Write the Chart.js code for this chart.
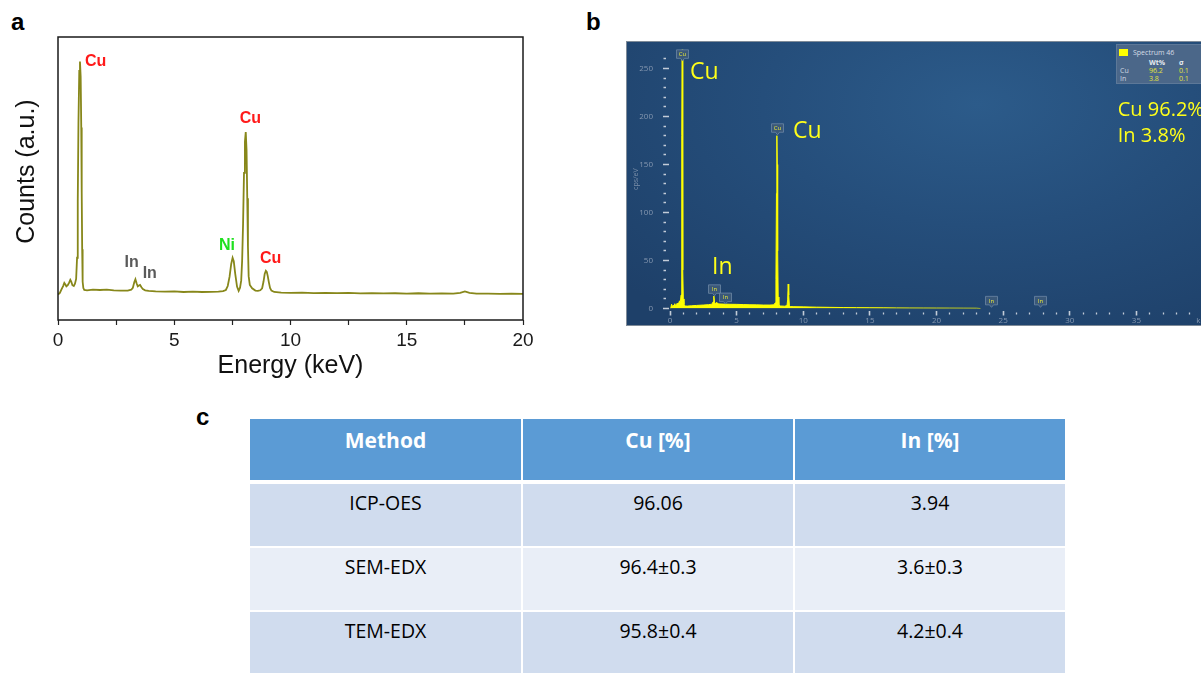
<!DOCTYPE html>
<html><head><meta charset="utf-8">
<script src="https://cdn.jsdelivr.net/npm/chart.js@4.4.1/dist/chart.umd.min.js"></script>
<style>
html,body{margin:0;padding:0;background:#fff;width:1201px;height:673px;overflow:hidden;position:relative;}
.plabel{position:absolute;font:bold 24px "Liberation Sans",Arial,sans-serif;color:#000;line-height:24px;}
#ca{position:absolute;left:0;top:0;}
#bbox{position:absolute;left:626px;top:41px;width:640px;height:285px;box-sizing:border-box;border:1px solid #7f8b98;
 background:radial-gradient(ellipse 75% 95% at 55% 22%, #2c5b8a 0%, #254e7b 45%, #1e4069 100%);}
#cb{position:absolute;left:627px;top:42px;}
#legend{position:absolute;left:1116px;top:44px;width:110px;height:40px;box-sizing:border-box;background:#4b6789;border:1px solid #5d7898;font-family:"Open Sans",sans-serif;font-size:7px;line-height:8px;}
#legend span{position:absolute;white-space:nowrap;}
.cell{position:absolute;box-sizing:border-box;text-align:center;font-family:"Open Sans",sans-serif;}
</style></head><body>
<div class="plabel" style="left:11px;top:10px;">a</div>
<div class="plabel" style="left:586px;top:10px;">b</div>
<div class="plabel" style="left:196px;top:405px;">c</div>
<canvas id="ca" width="560" height="392"></canvas>
<div id="bbox"></div>
<canvas id="cb" width="603" height="284"></canvas>
<div id="legend">
 <span style="left:2px;top:4px;width:9px;height:7px;background:#ffff00;"></span>
 <span style="left:16px;top:4px;color:#d6dde6;">Spectrum 46</span>
 <span style="left:32px;top:14px;color:#e6ebf0;font-weight:bold;">Wt%</span>
 <span style="left:62px;top:14px;color:#e6ebf0;font-weight:bold;">σ</span>
 <span style="left:3px;top:22px;color:#cfd8e2;">Cu</span>
 <span style="left:32px;top:22px;color:#e2e23c;">96.2</span>
 <span style="left:62px;top:22px;color:#e2e23c;">0.1</span>
 <span style="left:3px;top:30px;color:#cfd8e2;">In</span>
 <span style="left:32px;top:30px;color:#e2e23c;">3.8</span>
 <span style="left:62px;top:30px;color:#e2e23c;">0.1</span>
</div>
<div id="table"></div>
<script>
// ---------- Panel a: EDX spectrum (arbitrary counts) ----------
const energyA = [
 0.00, 0.08, 0.15, 0.22, 0.27, 0.31, 0.36, 0.42, 0.48, 0.53,
 0.57, 0.62, 0.68, 0.73, 0.78, 0.82, 0.85, 0.88, 0.915, 0.945,
 0.975, 1.00, 1.02, 1.04, 1.06, 1.09, 1.13, 1.25, 1.5, 1.8,
 2.1, 2.4, 2.7, 3.0, 3.15, 3.22, 3.28, 3.33, 3.38, 3.43,
 3.48, 3.53, 3.59, 3.65, 3.75, 3.9, 4.2, 4.6, 5.0, 5.4,
 5.8, 6.2, 6.6, 6.9, 7.1, 7.22, 7.3, 7.38, 7.45, 7.51,
 7.56, 7.62, 7.7, 7.77, 7.83, 7.88, 7.92, 7.96, 8.0, 8.04,
 8.075, 8.11, 8.14, 8.17, 8.2, 8.25, 8.35, 8.49, 8.6, 8.7,
 8.78, 8.84, 8.89, 8.94, 8.98, 9.02, 9.07, 9.12, 9.18, 9.3,
 9.6, 10.0, 10.5, 11.0, 11.5, 12.0, 12.5, 13.0, 13.5, 14.0,
 14.5, 15.0, 15.5, 16.0, 16.5, 17.0, 17.3, 17.5, 17.7, 18.0,
 18.5, 19.0, 19.5, 20.0
];
const countsA = [
 9.0, 9.6, 10.8, 12.0, 13.1, 12.6, 11.9, 12.3, 13.2, 14.2,
 13.6, 12.3, 12.0, 12.8, 14.5, 22, 42, 70, 88, 91.3,
 86, 68, 45, 25, 13.5, 11.3, 10.6, 10.5, 10.7, 10.6,
 10.7, 10.5, 10.4, 10.4, 10.7, 11.4, 13.3, 14.4, 13.0, 11.9,
 12.2, 12.4, 11.6, 10.9, 10.5, 10.3, 10.1, 10.0, 10.1, 9.9,
 10.0, 9.9, 9.95, 10.0, 10.2, 10.6, 12.0, 15.3, 19.8, 22.0,
 20.8, 16.5, 11.8, 10.3, 11.4, 14, 21, 34, 52, 63,
 66.4, 60, 43, 26, 15.5, 12.4, 11.2, 10.4, 10.3, 10.5,
 11.2, 13.6, 16.3, 17.4, 17.0, 15.6, 13.3, 11.3, 10.4, 9.9,
 9.7, 9.6, 9.7, 9.5, 9.6, 9.5, 9.55, 9.4, 9.5, 9.4,
 9.45, 9.35, 9.45, 9.3, 9.4, 9.35, 9.6, 10.1, 9.6, 9.3,
 9.35, 9.25, 9.3, 9.2
];
const xTicksA = [0, 5, 10, 15, 20];

// ---------- Panel b: EDX spectrum (cps/eV) ----------
const energyB = [
 0.05, 0.12, 0.18, 0.24, 0.3, 0.36, 0.42, 0.48, 0.54, 0.6,
 0.66, 0.72, 0.78, 0.83, 0.87, 0.895, 0.92, 0.945, 0.97, 1.0,
 1.05, 1.12, 1.3, 1.6, 2.0, 2.5, 2.9, 3.15, 3.24, 3.29,
 3.34, 3.4, 3.47, 3.52, 3.6, 3.75, 4.0, 4.5, 5.0, 5.5,
 6.0, 6.5, 7.0, 7.5, 7.8, 7.9, 7.95, 7.99, 8.02, 8.05,
 8.08, 8.12, 8.17, 8.3, 8.6, 8.78, 8.83, 8.87, 8.91, 8.96,
 9.05, 9.3, 10, 11, 12, 13, 14, 15, 16, 17,
 18, 19, 20, 21, 22, 23, 23.3
];
const cpsB = [
 0, 4.5, 1.5, 3.5, 2, 5, 3, 4, 5.5, 3.5,
 6, 8, 7, 14, 45, 180, 300, 170, 40, 10,
 4, 2.6, 2.5, 2.8, 3.2, 3.6, 4.0, 4.5, 7, 13,
 6.5, 5.2, 6.2, 5.8, 4.9, 4.7, 4.6, 4.4, 4.3, 4.1,
 3.9, 3.8, 3.6, 3.6, 3.8, 6, 30, 120, 180, 150,
 60, 12, 3.5, 2.6, 2.4, 3, 9, 25.5, 14, 3,
 2, 1.9, 1.7, 1.4, 1.2, 1.0, 0.9, 0.8, 0.7, 0.6,
 0.5, 0.45, 0.4, 0.35, 0.3, 0.25, 0
];
const markerNames = ['Cu', 'Cu', 'In', 'In', 'In', 'In'];
const markerEnergy = [0.92, 8.02, 3.3, 4.15, 24.1, 27.75];
const markerCps = [258, 181, 13.2, 4.6, 1.2, 1.2];
const compB = ['Cu 96.2%', 'In 3.8%'];

// ---------- Panel c: table ----------
const tableHeaders = ['Method', 'Cu [%]', 'In [%]'];
const methods = ['ICP-OES', 'SEM-EDX', 'TEM-EDX'];
const cuPercent = ['96.06', '96.4±0.3', '95.8±0.4'];
const inPercent = ['3.94', '3.6±0.3', '4.2±0.4'];

// ===== Chart a =====
const labelsA = [
 {text:'Cu', x:1.164, y:89.9, color:'#ff1a1a'},
 {text:'In', x:2.858, y:18.8, color:'#5a5a5a'},
 {text:'In', x:3.642, y:14.9, color:'#5a5a5a'},
 {text:'Ni', x:6.922, y:24.7, color:'#1fe01f'},
 {text:'Cu', x:7.815, y:69.5, color:'#ff1a1a'},
 {text:'Cu', x:8.69, y:20.2, color:'#ff1a1a'}
];
const frameLabelsA = {
 id:'frameLabelsA',
 afterDatasetsDraw(chart){
  const {ctx, chartArea:a, scales:{x,y}} = chart;
  ctx.save();
  ctx.strokeStyle = '#1a1a1a'; ctx.lineWidth = 1.5;
  ctx.strokeRect(a.left, a.top, a.right - a.left, a.bottom - a.top);
  ctx.font = 'bold 16px "Liberation Sans", Arial, sans-serif';
  ctx.textAlign = 'left'; ctx.textBaseline = 'alphabetic';
  labelsA.forEach(l => { ctx.fillStyle = l.color; ctx.fillText(l.text, x.getPixelForValue(l.x), y.getPixelForValue(l.y)); });
  ctx.restore();
 }
};
const fontA = '"Liberation Sans", Arial, sans-serif';
new Chart(document.getElementById('ca'), {
 type:'line',
 data:{datasets:[{data: energyA.map((e,i)=>({x:e, y:countsA[i]})), borderColor:'#87871a', borderWidth:1.8, pointRadius:0, tension:0, fill:false}]},
 options:{
  responsive:false, animation:false, devicePixelRatio:1,
  layout:{padding:{top:37, right:37, left:0, bottom:0}, autoPadding:false},
  plugins:{legend:{display:false}, tooltip:{enabled:false}},
  scales:{
   x:{type:'linear', min:0, max:20,
      ticks:{stepSize:2.5, autoSkip:false, maxRotation:0, padding:4, color:'#1a1a1a', font:{family:fontA, size:19},
             callback:v => xTicksA.includes(v) ? String(v) : ''},
      grid:{display:true, drawOnChartArea:false, drawTicks:true, tickLength:5, tickColor:'#222', tickWidth:1.2},
      border:{display:false},
      title:{display:true, text:'Energy (keV)', color:'#111', font:{family:fontA, size:25}, padding:{top:0, bottom:11}},
      afterFit:s => { s.height = 72; }},
   y:{min:0, max:100, ticks:{display:false}, grid:{display:false}, border:{display:false},
      title:{display:true, text:'  Counts (a.u.)', color:'#111', font:{family:fontA, size:25}, padding:{top:12, bottom:0}},
      afterFit:s => { s.width = 58; }}
  }
 },
 plugins:[frameLabelsA]
});

// ===== Chart b =====
const bigLabelsB = [
 {text:'Cu', x:1.5, y:239.6, size:23},
 {text:'Cu', x:9.23, y:177.8, size:23},
 {text:'In', x:3.15, y:36, size:23},
 {text:compB[0], x:33.6, y:201, size:20},
 {text:compB[1], x:33.6, y:173.8, size:20}
];
const markersB = {
 id:'markersB',
 afterDatasetsDraw(chart){
  const {ctx, scales:{x,y}} = chart;
  ctx.save();
  markerNames.forEach((n,i) => {
   const px = Math.round(x.getPixelForValue(markerEnergy[i])) + 0.5;
   const py = y.getPixelForValue(markerCps[i]);
   const w = 12, h = 8.5, tip = 2.5;
   const top = py - tip - h;
   ctx.beginPath();
   ctx.moveTo(px - w/2, top); ctx.lineTo(px + w/2, top); ctx.lineTo(px + w/2, top + h);
   ctx.lineTo(px + 2, top + h); ctx.lineTo(px, py); ctx.lineTo(px - 2, top + h);
   ctx.lineTo(px - w/2, top + h); ctx.closePath();
   ctx.fillStyle = '#3a5879'; ctx.fill();
   ctx.strokeStyle = '#6c86a4'; ctx.lineWidth = 0.8; ctx.stroke();
   ctx.fillStyle = '#e8e83a'; ctx.font = '6px "Open Sans", sans-serif';
   ctx.textAlign = 'center'; ctx.textBaseline = 'middle';
   ctx.fillText(n, px, top + h/2 + 0.3);
  });
  ctx.fillStyle = '#ffff1a'; ctx.textAlign = 'left'; ctx.textBaseline = 'alphabetic';
  bigLabelsB.forEach(l => {
   ctx.font = l.size + 'px "Open Sans", sans-serif';
   ctx.fillText(l.text, x.getPixelForValue(l.x), y.getPixelForValue(l.y));
  });
  ctx.restore();
 }
};
const isMajorX = c => c.tick && c.tick.value % 5 === 0;
const isMajorY = c => c.tick && c.tick.value % 50 === 0;
new Chart(document.getElementById('cb'), {
 type:'line',
 data:{datasets:[{data: energyB.map((e,i)=>({x:e, y:cpsB[i]})), borderColor:'#ffff00', backgroundColor:'#ffff00', borderWidth:1, pointRadius:0, tension:0, fill:'origin'}]},
 options:{
  responsive:false, animation:false, devicePixelRatio:1,
  layout:{padding:{top:0, right:27, left:0, bottom:0}, autoPadding:false},
  plugins:{legend:{display:false}, tooltip:{enabled:false}},
  scales:{
   x:{type:'linear', min:0, max:40,
      ticks:{stepSize:1, autoSkip:false, maxRotation:0, padding:0, color:'#8597b0', font:{family:'"Open Sans", sans-serif', size:8},
             callback:v => v === 40 ? 'keV' : (v % 5 === 0 ? String(v) : '')},
      grid:{drawOnChartArea:false, tickLength:7, tickColor:'#c3ccd8',
            tickWidth:c => isMajorX(c) ? 1.6 : 1.3,
            tickBorderDash:c => isMajorX(c) ? [0, 2, 5.5, 100] : [0, 3.5, 2, 100]},
      border:{display:false},
      afterFit:s => { s.height = 17.5; }},
   y:{min:0, max:269.5,
      ticks:{stepSize:10, autoSkip:false, includeBounds:false, padding:3, color:'#8597b0', font:{family:'"Open Sans", sans-serif', size:8},
             callback:v => v % 50 === 0 ? String(v) : ''},
      grid:{drawOnChartArea:false, tickLength:14, tickColor:'#c3ccd8',
            tickWidth:c => isMajorY(c) ? 1.5 : 1.3,
            tickBorderDash:c => isMajorY(c) ? [0, 7, 6, 100] : [0, 7.5, 2.5, 100]},
      border:{display:false},
      title:{display:true, text:'cps/eV', color:'#7d90aa', font:{family:'"Open Sans", sans-serif', size:7}, padding:{top:4.4, bottom:0}},
      afterFit:s => { s.width = 43; }}
  }
 },
 plugins:[markersB]
});

// ===== Table c =====
(function(){
 const t = document.getElementById('table');
 const colLeft = [250, 523, 795], colW = [271, 270, 270];
 const rowTop = [484, 548, 612], rowH = 62;
 const rowBg = ['#d0dcee', '#e9eef7', '#d0dcee'];
 tableHeaders.forEach((h, c) => {
  const d = document.createElement('div');
  d.className = 'cell'; d.textContent = h;
  Object.assign(d.style, {left:colLeft[c]+'px', top:'419px', width:colW[c]+'px', height:'61px', background:'#5b9bd5',
   color:'#fff', fontWeight:'bold', fontSize:'21px', lineHeight:'28px', paddingTop:'7px'});
  t.appendChild(d);
 });
 const rows = methods.map((m, i) => [m, cuPercent[i], inPercent[i]]);
 rows.forEach((r, i) => r.forEach((v, c) => {
  const d = document.createElement('div');
  d.className = 'cell'; d.textContent = v;
  Object.assign(d.style, {left:colLeft[c]+'px', top:rowTop[i]+'px', width:colW[c]+'px', height:rowH+'px', background:rowBg[i],
   color:'#000', fontSize:'19.5px', lineHeight:'26px', paddingTop:'6px'});
  t.appendChild(d);
 }));
})();
</script>
</body></html>
